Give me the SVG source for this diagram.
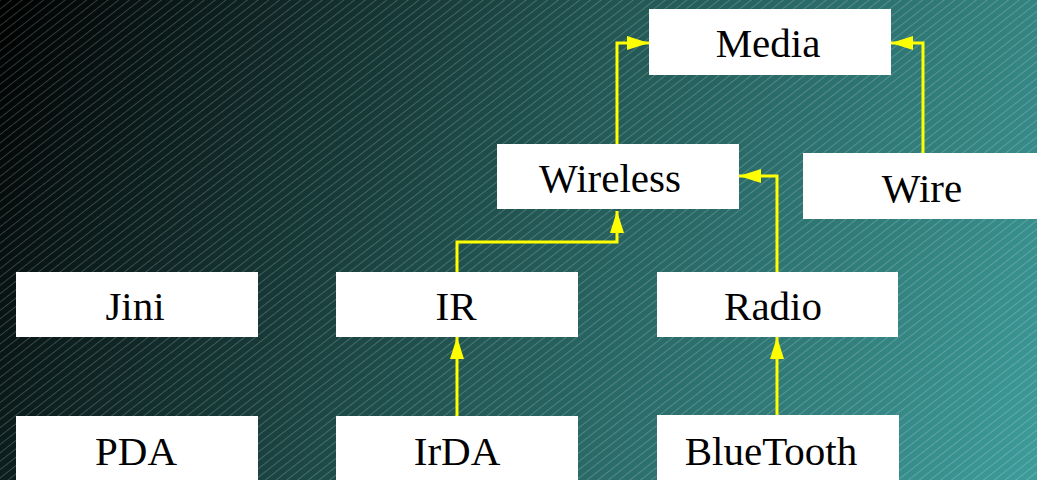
<svg xmlns="http://www.w3.org/2000/svg" width="1037" height="480" viewBox="0 0 1037 480">
  <defs>
    <linearGradient id="bg" gradientUnits="userSpaceOnUse" x1="0" y1="0" x2="1037" y2="480">
      <stop offset="0" stop-color="#000000"/>
      <stop offset="0.5" stop-color="#225754"/>
      <stop offset="1" stop-color="#3d9c9a"/>
    </linearGradient>
    <pattern id="hatch" patternUnits="userSpaceOnUse" width="12" height="6.6" patternTransform="rotate(-38)">
      <line x1="0" y1="0.5" x2="12" y2="0.5" stroke="#ffffff" stroke-opacity="0.22" stroke-width="0.9"/>
    </pattern>
    <marker id="arrow" viewBox="0 0 22 14" refX="22" refY="7" markerWidth="22" markerHeight="14" markerUnits="userSpaceOnUse" orient="auto">
      <path d="M0,0 L22,7 L0,14 Z" fill="#ffff00"/>
    </marker>
    <style>
      .node rect { fill: #ffffff; }
      .node text { font-family: 'Liberation Serif', 'DejaVu Serif', serif; font-size: 41px; fill: #000000; text-anchor: middle; }
      .edge { fill: none; stroke: #ffff00; stroke-width: 3; marker-end: url(#arrow); }
    </style>
  </defs>
  <rect x="0" y="0" width="1037" height="480" fill="url(#bg)"/>
  <rect x="0" y="0" width="1037" height="480" fill="url(#hatch)"/>

  <g id="connectors">
    <polyline class="edge" points="617,144 617,43 649,43"/>
    <polyline class="edge" points="923,153 923,43 891,43"/>
    <polyline class="edge" points="457,272 457,242 617,242 617,211"/>
    <polyline class="edge" points="777,272 777,176 739,176"/>
    <polyline class="edge" points="457,416 457,337"/>
    <polyline class="edge" points="777,416 777,337"/>
  </g>

  <g id="media" class="node">
    <rect x="649" y="9" width="242" height="66"/>
    <text x="768" y="57">Media</text>
  </g>
  <g id="wireless" class="node">
    <rect x="497" y="144" width="242" height="65"/>
    <text x="610" y="192">Wireless</text>
  </g>
  <g id="wire" class="node">
    <rect x="803" y="153" width="242" height="66"/>
    <text x="922" y="202">Wire</text>
  </g>
  <g id="jini" class="node">
    <rect x="16" y="272" width="242" height="65"/>
    <text x="135" y="320">Jini</text>
  </g>
  <g id="ir" class="node">
    <rect x="336" y="272" width="242" height="65"/>
    <text x="456" y="320">IR</text>
  </g>
  <g id="radio" class="node">
    <rect x="657" y="272" width="241" height="65"/>
    <text x="773" y="320">Radio</text>
  </g>
  <g id="pda" class="node">
    <rect x="16" y="416" width="242" height="70"/>
    <text x="136" y="465">PDA</text>
  </g>
  <g id="irda" class="node">
    <rect x="336" y="416" width="242" height="70"/>
    <text x="457" y="465">IrDA</text>
  </g>
  <g id="bluetooth" class="node">
    <rect x="657" y="415" width="242" height="70"/>
    <text x="771" y="465">BlueTooth</text>
  </g>
</svg>
